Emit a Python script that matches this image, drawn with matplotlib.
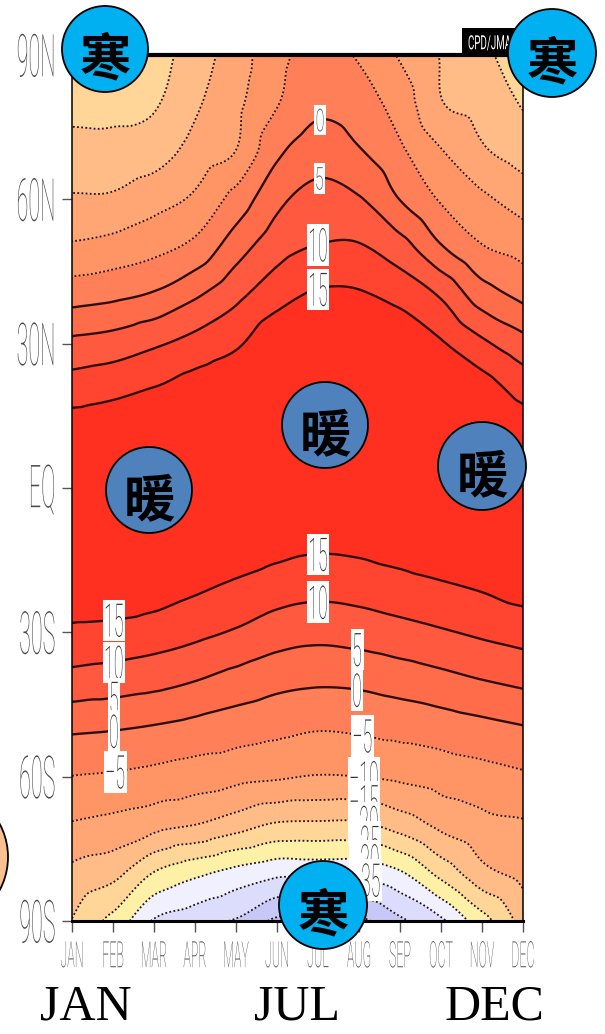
import numpy as np
import matplotlib
matplotlib.use("Agg")
import matplotlib.pyplot as plt
import matplotlib.tri as mtri
from matplotlib import patheffects
from matplotlib.colors import ListedColormap, BoundaryNorm
from matplotlib.patches import Ellipse, Rectangle
from matplotlib.path import Path
from matplotlib.transforms import Affine2D

W, H = 605, 1034

months = ["JAN", "FEB", "MAR", "APR", "MAY", "JUN",
          "JUL", "AUG", "SEP", "OCT", "NOV", "DEC"]
lats = [90, 80, 70, 60, 50, 40, 30, 20, 10, 0,
        -10, -20, -30, -40, -50, -60, -70, -80, -90]
lat_ticks = [-90, -60, -30, 0, 30, 60, 90]
lat_tick_labels = ["90S", "60S", "30S", "EQ", "30N", "60N", "90N"]

# zonal-mean temperature (deg C), one list per latitude, JAN..DEC
t_90n = [-23.0, -23.5, -22.0, -17.5, -12.5, -6.5, -3.5, -5.5, -10.5, -15.3, -19.0, -22.5]
t_80n = [-21.2, -21.3, -20.5, -15.8, -11.2, -5.3, -1.2, -2.8, -7.2, -14.7, -16.9, -20.4]
t_70n = [-18.5, -18.4, -17.3, -13.1, -9.9, -1.0, 2.6, 0.4, -4.1, -9.7, -14.3, -17.2]
t_60n = [-14.4, -14.2, -11.8, -9.1, -3.1, 3.7, 6.8, 5.4, -0.1, -5.5, -9.0, -12.2]
t_50n = [-9.2, -8.1, -6.4, -3.6, 2.8, 8.0, 10.3, 10.5, 7.1, 0.5, -4.6, -6.8]
t_40n = [-2.0, -1.0, 0.7, 4.4, 8.8, 13.2, 15.7, 15.6, 13.5, 9.5, 2.5, -1.2]
t_30n = [6.2, 7.2, 9.3, 11.7, 14.3, 18.5, 19.5, 19.5, 18.5, 15.5, 11.0, 6.8]
t_20n = [12.9, 14.0, 15.5, 17.4, 19.0, 20.5, 21.0, 21.0, 20.5, 19.5, 17.5, 13.6]
t_10n = [18.5, 19.0, 19.5, 19.5, 20.5, 21.5, 22.0, 22.0, 21.5, 21.0, 20.0, 18.5]
t_eq = [20.0, 20.5, 20.5, 21.0, 21.5, 21.5, 21.0, 21.0, 21.5, 21.5, 21.0, 20.0]
t_10s = [20.0, 20.5, 20.5, 20.5, 19.2, 17.7, 16.7, 17.0, 18.2, 19.4, 20.5, 20.5]
t_20s = [19.0, 18.7, 17.8, 16.1, 14.4, 12.7, 11.9, 12.4, 13.4, 14.6, 15.8, 17.3]
t_30s = [13.9, 13.5, 12.6, 11.2, 9.5, 7.4, 6.5, 7.1, 8.3, 9.5, 10.8, 12.0]
t_40s = [8.3, 7.6, 6.6, 5.1, 3.2, 1.5, 0.8, 1.1, 2.2, 3.5, 4.9, 6.1]
t_50s = [0.8, 0.3, -0.5, -1.6, -2.8, -3.8, -4.7, -4.3, -3.5, -2.6, -1.5, -0.4]
t_60s = [-5.1, -5.6, -6.5, -7.6, -8.6, -9.4, -10.3, -10.0, -9.1, -8.0, -6.8, -5.7]
t_70s = [-10.4, -11.5, -13.3, -15.0, -17.8, -20.6, -20.9, -20.9, -17.9, -13.8, -11.6, -10.5]
t_80s = [-16.3, -18.4, -25.2, -28.8, -31.6, -33.8, -33.6, -33.6, -30.6, -23.4, -16.6, -13.4]
t_90s = [-20.2, -26.5, -35.5, -38.0, -40.5, -46.0, -47.0, -46.0, -41.0, -36.0, -27.0, -18.0]

rows = [t_90n, t_80n, t_70n, t_60n, t_50n, t_40n, t_30n, t_20n, t_10n, t_eq,
        t_10s, t_20s, t_30s, t_40s, t_50s, t_60s, t_70s, t_80s, t_90s]
temp = np.array(rows, dtype=float)

# contour levels and shading
levels = np.arange(-45, 16, 5)
fill_colors = ["#c8c8f6", "#dcdcfc", "#f0f0ff", "#fff0a8", "#ffd698", "#ffbc86",
               "#ffa674", "#ff9464", "#ff8058", "#ff6c4a", "#ff5a40", "#ff4530"]
under_color = "#b8b8f0"
over_color = "#ff3020"

# labelled contours: (level, month position, hemisphere)
label_spots = [(0, 6.05, "N"), (5, 6.03, "N"), (10, 6.0, "N"), (15, 6.0, "N"),
               (15, 6.0, "S"), (10, 6.0, "S"), (5, 6.95, "S"), (0, 6.95, "S"),
               (-5, 7.08, "S"), (-10, 7.12, "S"), (-15, 7.12, "S"), (-20, 7.12, "S"),
               (-25, 7.14, "S"), (-30, 7.14, "S"), (-35, 7.16, "S"),
               (15, 1.02, "S"), (10, 1.02, "S"), (5, 1.02, "S"), (0, 1.02, "S"),
               (-5, 1.05, "S")]


class TallGlyphs(patheffects.AbstractPathEffect):
    """Stretch glyphs vertically about their centre, optionally on a white box."""

    def __init__(self, sy, box=None):
        super().__init__()
        self.sy = sy
        self.box = box

    def draw_path(self, renderer, gc, tpath, affine, rgbFace=None):
        ext = tpath.get_extents(affine)
        cy = 0.5 * (ext.y0 + ext.y1)
        aff = affine + Affine2D().translate(0, -cy).scale(1, self.sy).translate(0, cy)
        if self.box is not None:
            px, py = self.box
            e = tpath.get_extents(aff)
            bt = Affine2D().scale(e.width + 2 * px, e.height + 2 * py).translate(e.x0 - px, e.y0 - py)
            g = renderer.new_gc()
            g.copy_properties(gc)
            g.set_linewidth(0)
            renderer.draw_path(g, Path.unit_rectangle(), bt, (1, 1, 1, 1))
            g.restore()
        g2 = renderer.new_gc()
        g2.copy_properties(gc)
        g2.set_linewidth(0)
        renderer.draw_path(g2, tpath, aff, rgbFace)
        g2.restore()


# smooth field on a fine grid (lat scaled so the grid is roughly square on screen)
lat_scale = 48.1 / 41.0 / 10.0
mx, ly = np.meshgrid(np.arange(12, dtype=float), np.array(lats, dtype=float))
tri = mtri.Triangulation(mx.ravel(), ly.ravel() * lat_scale)
interp = mtri.CubicTriInterpolator(tri, temp.ravel(), kind="geom")
xf = np.linspace(0, 11, 331)
yf = np.linspace(-90, 90, 541)
eps = 1e-7
XF, YF = np.meshgrid(np.clip(xf, eps, 11 - eps), np.clip(yf, -90 + eps, 90 - eps))
TF = interp(XF, YF * lat_scale)
TF = np.ma.filled(TF, np.nan)

fig = plt.figure(figsize=(W / 100, H / 100), dpi=100)
ax = fig.add_axes([72 / W, 1 - 921 / H, (523 - 72) / W, (921 - 55) / H])

cmap = ListedColormap(fill_colors)
cmap.set_under(under_color)
cmap.set_over(over_color)
norm = BoundaryNorm(levels, cmap.N)
ax.contourf(xf, yf, TF, levels=levels, cmap=cmap, norm=norm, extend="both",
            antialiased=True)

line_styles = [(0, (1, 1.3)) if lv < 0 else "solid" for lv in levels]
line_colors = ["#1e1414" if lv < 0 else "#2e0e0a" for lv in levels]
line_widths = [1.3 if lv < 0 else 1.7 for lv in levels]
ax.contour(xf, yf, TF, levels=levels, colors=line_colors, linewidths=line_widths,
           linestyles=line_styles)


def crossing_lat(level, xm, hemi):
    j = int(np.argmin(np.abs(xf - xm)))
    prof = TF[:, j] - level
    sel = yf > 0 if hemi == "N" else yf < 0
    ys, ps = yf[sel], prof[sel]
    idx = np.where(np.sign(ps[:-1]) != np.sign(ps[1:]))[0]
    if len(idx) == 0:
        return None
    if hemi == "S":
        i = idx[np.argmax(ys[idx])]
    else:
        i = idx[0]
    return ys[i] + (ys[i + 1] - ys[i]) * ps[i] / (ps[i] - ps[i + 1])


for lv, xm, hemi in label_spots:
    yl = crossing_lat(lv, xm, hemi)
    if yl is None:
        continue
    txt = str(lv).replace("-", "\u2212")
    small = hemi == "N" and lv in (0, 5)
    ax.text(xm, yl, txt, ha="center", va="center_baseline",
            fontsize=11.5 if small else 12.8, family="Roboto", fontweight="light",
            color="#303030", zorder=5,
            path_effects=[TallGlyphs(1.95 if small else 2.6, box=(2.5, 4))])

ax.set_xlim(0, 11)
ax.set_ylim(-90, 90)
ax.set_xticks(range(12))
ax.set_xticklabels(months)
ax.set_yticks(lat_ticks)
ax.set_yticklabels(lat_tick_labels)
ax.tick_params(axis="y", length=7, width=1, color="#555555", pad=5,
               labelsize=15.5, labelcolor="#4a4a4a")
ax.tick_params(axis="x", length=8, width=1, color="#555555", pad=12,
               labelsize=9, labelcolor="#4a4a4a")
for lbl in ax.get_yticklabels():
    lbl.set_family("Roboto")
    lbl.set_fontweight("light")
    lbl.set_path_effects([TallGlyphs(2.75)])
for lbl in ax.get_xticklabels():
    lbl.set_family("Roboto")
    lbl.set_fontweight("light")
    lbl.set_path_effects([TallGlyphs(2.9)])

ax.spines["top"].set_linewidth(3.0)
ax.spines["bottom"].set_linewidth(2.2)
ax.spines["left"].set_linewidth(1.1)
ax.spines["right"].set_linewidth(1.1)
for s in ax.spines.values():
    s.set_color("black")

# data-source tag at the top right corner
fig.add_artist(Rectangle((462 / W, 1 - 55 / H), 61 / W, 27 / H, transform=fig.transFigure,
                         facecolor="black", edgecolor="none", zorder=5))
fig.text(468 / W, 1 - 42 / H, "CPD/JMA", ha="left", va="center_baseline", fontsize=7,
         family="Roboto", color="white", zorder=6, path_effects=[TallGlyphs(2.0)])

# annotation bubbles
bubbles = [(105, 49, 43, "#00b0f0", "\u5bd2"), (552, 53, 44, "#00b0f0", "\u5bd2"),
           (323, 905, 44, "#00b0f0", "\u5bd2"),
           (149, 490, 43, "#4f81bd", "\u6696"), (325, 425, 43, "#4f81bd", "\u6696"),
           (482, 466, 44, "#4f81bd", "\u6696")]
for cx, cy, r, col, ch in bubbles:
    fig.add_artist(Ellipse((cx / W, 1 - cy / H), 2 * r / W, 2 * r / H,
                           transform=fig.transFigure, facecolor=col,
                           edgecolor="black", linewidth=1.3, zorder=10))
    fig.text(cx / W, 1 - (cy + 11) / H, ch, ha="center", va="center", fontsize=37,
             family=["Noto Sans CJK SC", "DejaVu Sans"], fontweight="bold",
             color="black", zorder=11)

fig.add_artist(Ellipse((-62 / W, 1 - 857 / H), 140 / W, 140 / H,
                       transform=fig.transFigure, facecolor="#fac090",
                       edgecolor="black", linewidth=1.3, zorder=10))

for x, word in [(86, "JAN"), (297, "JUL"), (494, "DEC")]:
    fig.text(x / W, 1 - 1020 / H, word, ha="center", va="baseline", fontsize=36,
             family="Liberation Serif", color="black")

fig.savefig("out.png", dpi=100)
